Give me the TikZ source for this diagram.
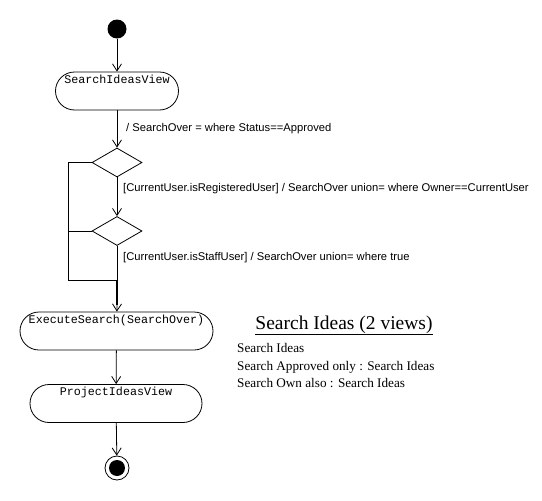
\documentclass[tikz,border=0pt]{standalone}
\usepackage{fontspec}
\setmainfont{Liberation Serif}
\setsansfont{Liberation Sans}
\setmonofont{Liberation Mono}
\usetikzlibrary{positioning,arrows.meta,shapes.geometric}

\begin{document}
\begin{tikzpicture}[
    x=1pt, y=-1pt,
    activity/.style={rectangle, draw, rounded corners=19pt, minimum height=38pt,
                     inner sep=0pt, line width=0.8pt},
    actname/.style={anchor=north, inner sep=0pt, yshift=-3pt,
                    font=\ttfamily\fontsize{11.7}{12}\selectfont},
    choice/.style={diamond, draw, aspect=1.7, minimum width=50pt,
                   minimum height=29pt, inner sep=0pt, line width=0.8pt},
    guard/.style={anchor=base west, inner sep=0pt,
                  font=\sffamily\fontsize{11.2}{12}\selectfont},
    arrow/.style={-{Straight Barb[length=7pt,width=9pt]}, line width=0.8pt},
    wire/.style={line width=0.8pt}
]
\useasboundingbox (0,0) rectangle (542,501);

\node[circle, fill, inner sep=0pt, minimum size=19pt] (start) at (117,29) {};
\node[activity, minimum width=123pt, label={[actname]north:SearchIdeasView}] (sview) at (117,91) {};
\node[choice] (regd)   at (117,162.5) {};
\node[choice] (staffd) at (117,231) {};
\coordinate (merge)    at (117,280);
\coordinate (mergeend) at (117,305);
\coordinate (loopleft) at (68,280);
\node[activity, minimum width=193pt, label={[actname]north:ExecuteSearch(SearchOver)}] (exec) at (116.5,331) {};
\node[activity, minimum width=172pt, label={[actname]north:ProjectIdeasView}] (pview) at (116,403.5) {};
\node[circle, draw, inner sep=0pt, minimum size=24pt, line width=0.8pt] (final) at (117,468) {};
\node[circle, fill, inner sep=0pt, minimum size=16pt] (finaldot) at (final) {};

% guards on the transitions
\node[guard] (g1) at (126,131.5) {/ SearchOver = where Status==Approved};
\node[guard] (g2) at (123,191) {[CurrentUser.isRegisteredUser] / SearchOver union= where Owner==CurrentUser};
\node[guard] (g3) at (123,260) {[CurrentUser.isStaffUser] / SearchOver union= where true};

\draw[arrow] (start) -- (sview);
\draw[arrow] (sview) -- (regd);
\draw[arrow] (regd) -- (staffd);
\draw[wire] (staffd) -- (merge);
\draw[wire] (regd.west) -| (loopleft) -- (merge);
\draw[wire] (staffd.west) -- (staffd.west -| loopleft);
\draw[line width=2pt] (merge) -- (mergeend);
\draw[arrow] (mergeend) -- (exec);
\draw[arrow] (exec) -- (pview);
\draw[arrow] (pview) -- (final);

% view list
\node[anchor=base, font=\fontsize{19.5}{21}\selectfont] (title) at (344,329) {\underline{Search Ideas (2 views)}};
\node[anchor=north west, align=left, inner sep=0pt, font=\fontsize{13.2}{17.2}\selectfont] (views) at (237,343.5)
  {Search Ideas\\Search Approved only : Search Ideas\\Search Own also : Search Ideas};
\end{tikzpicture}
\end{document}
